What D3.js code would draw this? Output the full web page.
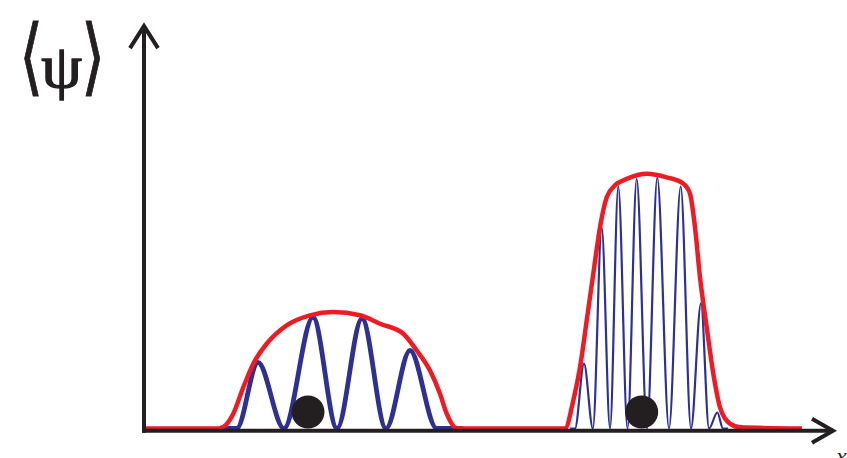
<!DOCTYPE html>
<html>
<head>
<meta charset="utf-8">
<script src="https://cdn.jsdelivr.net/npm/d3@7"></script>
<style>
  body { margin: 0; background: #fff; }
  svg { display: block; }
</style>
</head>
<body>
<div id="chart"></div>
<script>

// red envelope, one path along the whole axis (position units, amplitude)
var envX = [0, 7.4, 8.83, 9.83, 10.83, 12.17, 14.17, 16.5, 18.83, 21.5, 23.5, 25.83, 27.17, 28.5, 29.5, 30.17, 31.2,
            42.0, 42.83, 43.5, 44.17, 44.83, 45.5, 46.17, 47.0, 48.17, 50.17, 52.17, 53.83, 54.5, 55.0, 55.5, 56.17, 56.83, 57.5, 58.5, 59.5, 65.7];
var envY = [0, 0, 0.037, 0.103, 0.162, 0.212, 0.258, 0.283, 0.291, 0.283, 0.262, 0.237, 0.195, 0.145, 0.087, 0.037, 0,
            0, 0.07, 0.153, 0.27, 0.387, 0.503, 0.578, 0.608, 0.624, 0.637, 0.628, 0.612, 0.587, 0.503, 0.378, 0.253, 0.137, 0.053, 0.012, 0.003, 0];

// blue wave, slow packet (troughs and peaks alternate)
var waveLeftX = [7.5, 9.17, 11.3, 13.9, 16.8, 19.2, 21.7, 24.1, 26.5, 29.17, 31.8];
var waveLeftY = [0, 0, 0.165, 0, 0.278, 0, 0.275, 0, 0.195, 0, 0];

// blue wave, fast packet
var waveRightX = [42.5, 43.0, 43.9, 44.79, 45.67, 46.5, 47.33, 48.25, 49.17, 50.2, 51.23, 52.4, 53.57, 54.6, 55.6, 56.4, 57.23, 57.8, 58.3];
var waveRightY = [0, 0, 0.162, 0, 0.503, 0, 0.605, 0, 0.624, 0, 0.627, 0, 0.605, 0, 0.313, 0, 0.04, 0, 0];

// particles
var dotX = [16.3, 49.67];

var width = 847, height = 458;

var x = d3.scaleLinear().domain([0, 70]).range([145, 845]),
    y = d3.scaleLinear().domain([0, 1]).range([428.5, 28.5]);

var red = '#ed1c24', blue = '#2e3192', ink = '#231f20';

var svg = d3.select('#chart').append('svg')
    .attr('width', width)
    .attr('height', height);

var line = d3.line()
    .x(d => x(d[0]))
    .y(d => y(d[1]))
    .curve(d3.curveMonotoneX);

svg.append('path')
    .attr('d', line(d3.zip(waveLeftX, waveLeftY)))
    .attr('fill', 'none')
    .attr('stroke', blue)
    .attr('stroke-width', 4.8);

svg.append('path')
    .attr('d', line(d3.zip(waveRightX, waveRightY)))
    .attr('fill', 'none')
    .attr('stroke', blue)
    .attr('stroke-width', 2.2);

svg.append('path')
    .attr('d', line(d3.zip(envX, envY)))
    .attr('fill', 'none')
    .attr('stroke', red)
    .attr('stroke-width', 4.5)
    .attr('stroke-linejoin', 'round');

// axes
var x0 = x(-0.1), yBase = y(0) + 2.2;

var axes = svg.append('g')
    .attr('stroke', ink)
    .attr('stroke-width', 4)
    .attr('fill', 'none');

axes.append('line')
    .attr('x1', x0).attr('y1', yBase + 2)
    .attr('x2', x0).attr('y2', y(1.006));
axes.append('path')
    .attr('d', `M${x0 - 14},${y(1.006) + 22}L${x0},${y(1.006)}L${x0 + 14},${y(1.006) + 22}`);

axes.append('line')
    .attr('x1', x0 - 2).attr('y1', yBase)
    .attr('x2', x(68.8)).attr('y2', yBase);
axes.append('path')
    .attr('d', `M${x(68.8) - 21},${yBase - 12}L${x(68.8)},${yBase}L${x(68.8) - 21},${yBase + 12}`);

svg.append('g')
    .selectAll('circle')
    .data(dotX).enter()
  .append('circle')
    .attr('cx', d => x(d))
    .attr('cy', y(0) - 16.5)
    .attr('r', 16.5)
    .attr('fill', ink);

// labels: ⟨ψ⟩
svg.append('text')
    .attr('transform', 'translate(19,85) scale(1.2,1.62)')
    .attr('font-family', 'DejaVu Serif, serif')
    .attr('font-size', 52)
    .attr('fill', ink)
    .attr('stroke', ink)
    .attr('stroke-width', 0.6)
    .text('⟨');
svg.append('text')
    .attr('transform', 'translate(61.5,87) scale(1.05,1)')
    .attr('text-anchor', 'middle')
    .attr('font-family', 'Liberation Serif, serif')
    .attr('font-size', 62)
    .attr('fill', ink)
    .attr('stroke', ink)
    .attr('stroke-width', 1.3)
    .text('ψ');
svg.append('text')
    .attr('transform', 'translate(81,85) scale(1.2,1.62)')
    .attr('font-family', 'DejaVu Serif, serif')
    .attr('font-size', 52)
    .attr('fill', ink)
    .attr('stroke', ink)
    .attr('stroke-width', 0.6)
    .text('⟩');

svg.append('text')
    .attr('x', 836)
    .attr('y', 464)
    .attr('font-family', 'Liberation Serif, serif')
    .attr('font-style', 'italic')
    .attr('font-size', 24)
    .attr('fill', ink)
    .text('x');

</script>
</body>
</html>
